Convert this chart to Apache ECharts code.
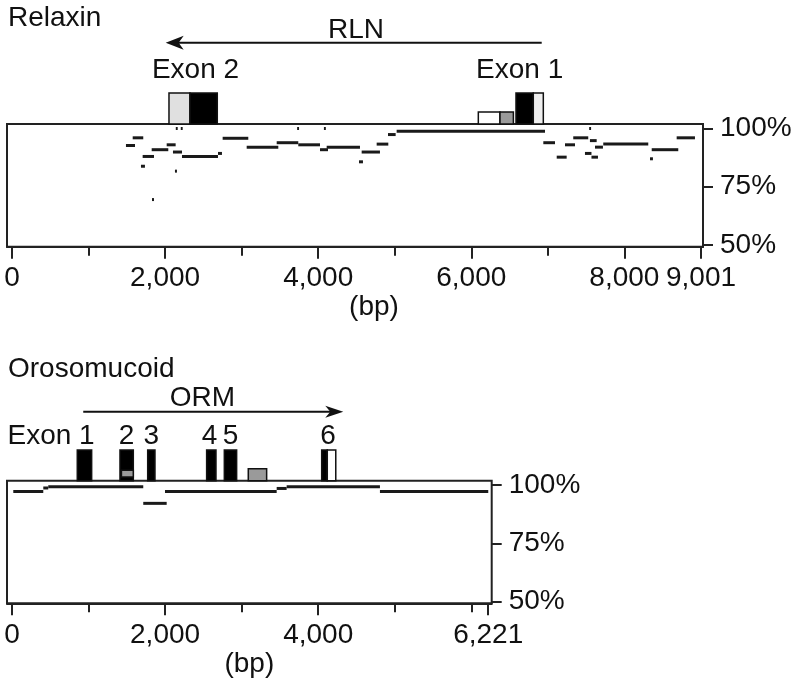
<!DOCTYPE html>
<html><head><meta charset="utf-8">
<script src="https://cdn.jsdelivr.net/npm/echarts@6/dist/echarts.min.js"></script>
<style>html,body{margin:0;padding:0;background:#fff}#c{width:800px;height:685px}</style>
</head><body><div id="c"></div>
<script>
// ---------------- data ----------------
const identityTicks = [50, 75, 100];

// Relaxin (RLN) panel
const relaxinTicks = [0, 2000, 4000, 6000, 8000, 9001];
const relaxinMinorTicks = [1000, 3000, 5000, 7000];
const relaxinStart    = [1489,1577,1685,1707,1829,1825,2021,2103,2129,2221,2691,2752,3066,3458,3740,4024,4111,4533,4568,4764,4912,5025,6941,7116,7224,7332,7485,7550,7570,7616,7724,8335,8357,8683,2140,2205,3725,4075,7540];
const relaxinEnd      = [1607,1715,1737,1855,1855,2042,2138,2221,2155,2691,2743,3087,3479,3740,4024,4128,4546,4585,4807,4916,5012,6963,7094,7246,7355,7528,7570,7638,7655,7720,8312,8373,8704,8922,2165,2230,3750,4100,7565];
const relaxinIdentity = [92.7,96.0,83.8,88.0,69.5,90.9,93.0,89.9,81.7,88.0,89.3,95.8,92.0,93.9,93.0,90.9,92.0,85.7,89.9,93.3,97.4,98.8,93.9,87.7,93.0,96.0,89.3,94.8,87.7,92.0,93.4,87.0,90.9,96.0,100,100,100,100,100];
const relaxinExonStart = [2051, 2325, 6092, 6375, 6584, 6810];
const relaxinExonEnd   = [2325, 2682, 6375, 6550, 6810, 6941];
const relaxinExonType  = ['utr', 'coding', 'short', 'shortGrey', 'coding', 'utrLight'];
const relaxinLabelText = ['Exon 2', 'Exon 1'];
const relaxinLabelPos  = [2397, 6632];
const relaxinGeneName = 'RLN';
const relaxinGeneFrom = 6920;
const relaxinGeneTo   = 2008;
const relaxinGeneLabelPos = 4494;

// Orosomucoid (ORM) panel
const ormTicks = [0, 2000, 4000, 6221];
const ormMinorTicks = [1000, 3000, 5000, 6000];
const ormStart    = [17, 409, 474, 1715, 1999, 3458, 3588, 4807];
const ormEnd      = [409, 474, 1715, 2021, 3458, 3588, 4807, 6222];
const ormIdentity = [97.3, 98.8, 99.3, 92.2, 97.3, 98.6, 99.3, 97.3];
const ormExonStart = [853, 1411, 1773, 2543, 2774, 4046, 4119, 1430, 3087];
const ormExonEnd   = [1041, 1585, 1868, 2665, 2935, 4119, 4230, 1585, 3327];
const ormExonType  = ['coding','coding','coding','coding','coding','coding','utrWhite','insetGrey','shortGrey'];
const ormLabelText = ['Exon 1', '2', '3', '4', '5', '6'];
const ormLabelPos  = [976, 1498, 1820, 2580, 2854, 4128];
const ormGeneName = 'ORM';
const ormGeneFrom = 931;
const ormGeneTo   = 4328;
const ormGeneLabelPos = 2488;

// ---------------- layout / style ----------------
const FONT = '"Liberation Sans", Arial, Helvetica, sans-serif';
const FS = 28;
const INK = '#111';
const panels = [
  { title: 'Relaxin', titleY: 18, plotTop: 124, plotH: 122.7, exonTop: 93, exonH: 31, width: 696, xMin: -65, xMax: 9027,
    ticks: relaxinTicks, minor: relaxinMinorTicks,
    start: relaxinStart, end: relaxinEnd, ident: relaxinIdentity,
    exS: relaxinExonStart, exE: relaxinExonEnd, exT: relaxinExonType,
    lbT: relaxinLabelText, lbP: relaxinLabelPos, lbRightFirst: false,
    gene: relaxinGeneName, gFrom: relaxinGeneFrom, gTo: relaxinGeneTo, gLab: relaxinGeneLabelPos,
    labelOff: 54, arrowOff: 81.3, nameOff: 94, head: [18, 7], bpShift: 38 },
  { title: 'Orosomucoid', titleY: 369, plotTop: 480.7, plotH: 122.6, exonTop: 450, exonH: 30.7, width: 484.7, xMin: -65, xMax: 6267,
    ticks: ormTicks, minor: ormMinorTicks,
    start: ormStart, end: ormEnd, ident: ormIdentity,
    exS: ormExonStart, exE: ormExonEnd, exT: ormExonType,
    lbT: ormLabelText, lbP: ormLabelPos, lbRightFirst: true,
    gene: ormGeneName, gFrom: ormGeneFrom, gTo: ormGeneTo, gLab: ormGeneLabelPos,
    labelOff: 44, arrowOff: 69, nameOff: 82.7, head: [18, 6], bpShift: 0 }
];

const fmt = v => Number(v).toLocaleString('en-US');
const exonFill = { coding: '#000', utr: '#e0e0e0', utrLight: '#efefef', utrWhite: '#fff', short: '#fff', shortGrey: '#9a9a9a', insetGrey: '#9a9a9a' };

const grid = [], xAxis = [], yAxis = [], series = [], graphic = [];

panels.forEach((p, i) => {
  const gPlot = grid.length;
  grid.push({ left: 7, top: p.plotTop, width: p.width, height: p.plotH, show: true, borderColor: '#222', borderWidth: 2, backgroundColor: 'transparent' });
  const gEx = grid.length;
  grid.push({ left: 7, top: p.exonTop, width: p.width, height: p.exonH, show: false });

  const xMain = xAxis.length;
  xAxis.push({ type: 'value', gridIndex: gPlot, position: 'bottom', min: p.xMin, max: p.xMax,
    axisLine: { show: true, onZero: false, lineStyle: { color: '#222', width: 2 } },
    axisTick: { show: true, customValues: p.ticks, length: 12, lineStyle: { color: '#222', width: 2 } },
    axisLabel: { show: true, customValues: p.ticks, formatter: fmt, fontSize: FS, fontFamily: FONT, color: INK, margin: 18 },
    splitLine: { show: false },
    name: '(bp)', nameLocation: 'middle', nameGap: 43,
    nameTextStyle: { fontSize: FS, fontFamily: FONT, color: INK, padding: [0, 0, 0, p.bpShift] } });
  xAxis.push({ type: 'value', gridIndex: gPlot, position: 'bottom', min: p.xMin, max: p.xMax,
    axisLine: { show: false, onZero: false }, axisLabel: { show: false }, splitLine: { show: false },
    axisTick: { show: true, customValues: p.minor, length: 9, lineStyle: { color: '#222', width: 2 } } });
  const xEx = xAxis.length;
  xAxis.push({ type: 'value', gridIndex: gEx, min: p.xMin, max: p.xMax, show: false });

  const yMain = yAxis.length;
  yAxis.push({ type: 'value', gridIndex: gPlot, position: 'right', min: 49.27, max: 101.93,
    axisLine: { show: false, onZero: false }, splitLine: { show: false },
    axisTick: { show: true, customValues: identityTicks, length: 10, lineStyle: { color: '#222', width: 2 } },
    axisLabel: { show: true, customValues: identityTicks, formatter: '{value}%', fontSize: FS, fontFamily: FONT, color: INK, margin: 17 } });
  const yEx = yAxis.length;
  yAxis.push({ type: 'value', gridIndex: gEx, min: 0, max: 1, show: false });

  // percent identity segments
  series.push({ type: 'custom', xAxisIndex: xMain, yAxisIndex: yMain, clip: false, silent: true,
    data: p.start.map((s, k) => [s, p.end[k], p.ident[k]]),
    encode: { x: [0, 1], y: 2 },
    renderItem: (params, api) => {
      const a = api.coord([api.value(0), api.value(2)]);
      const b = api.coord([api.value(1), api.value(2)]);
      return { type: 'line', shape: { x1: a[0], y1: a[1], x2: b[0], y2: b[1] }, style: { stroke: '#1a1a1a', lineWidth: 3 } };
    } });

  // exons
  series.push({ type: 'custom', xAxisIndex: xEx, yAxisIndex: yEx, clip: false, silent: true,
    data: p.exS.map((s, k) => [s, p.exE[k], 0]),
    encode: { x: [0, 1], y: 2 },
    renderItem: (params, api) => {
      const t = p.exT[params.dataIndex];
      let lo = 0, hi = 1;
      if (t === 'short' || t === 'shortGrey') hi = 0.39;
      if (t === 'insetGrey') { lo = 0.12; hi = 0.34; }
      const a = api.coord([api.value(0), hi]);
      const b = api.coord([api.value(1), lo]);
      return { type: 'rect', shape: { x: a[0], y: a[1], width: b[0] - a[0], height: b[1] - a[1] },
        style: { fill: exonFill[t], stroke: '#111', lineWidth: 1.5 } };
    } });

  // exon labels
  series.push({ type: 'custom', xAxisIndex: xEx, yAxisIndex: yEx, clip: false, silent: true,
    data: p.lbP.map(v => [v, 0]),
    encode: { x: 0, y: 1 },
    renderItem: (params, api) => {
      const c = api.coord([api.value(0), 0]);
      const idx = params.dataIndex;
      const right = p.lbRightFirst && idx === 0;
      return { type: 'text', x: right ? c[0] + 8 : c[0], y: c[1] - p.labelOff,
        style: { text: p.lbT[idx], fill: INK, font: FS + 'px ' + FONT, align: right ? 'right' : 'center', verticalAlign: 'middle' } };
    } });

  // gene arrow + name
  series.push({ type: 'custom', xAxisIndex: xEx, yAxisIndex: yEx, clip: false, silent: true,
    data: [[p.gFrom, p.gTo, 0, p.gLab]],
    encode: { x: [0, 1], y: 2 },
    renderItem: (params, api) => {
      const a = api.coord([api.value(0), 0]);
      const b = api.coord([api.value(1), 0]);
      const m = api.coord([api.value(3), 0]);
      const y = a[1] - p.arrowOff;
      const dir = b[0] > a[0] ? 1 : -1;
      const L = p.head[0], H = p.head[1];
      const tip = b[0];
      return { type: 'group', children: [
        { type: 'line', shape: { x1: a[0], y1: y, x2: tip - dir * 6, y2: y }, style: { stroke: '#111', lineWidth: 2 } },
        { type: 'polygon', shape: { points: [[tip, y], [tip - dir * L, y - H], [tip - dir * L * 0.72, y], [tip - dir * L, y + H]] }, style: { fill: '#111' } },
        { type: 'text', x: m[0], y: a[1] - p.nameOff, style: { text: p.gene, fill: INK, font: FS + 'px ' + FONT, align: 'center', verticalAlign: 'middle' } }
      ] };
    } });

  graphic.push({ type: 'text', x: 8, y: p.titleY, style: { text: p.title, fill: INK, font: FS + 'px ' + FONT, align: 'left', verticalAlign: 'middle' } });
});

const chart = echarts.init(document.getElementById('c'), null, { renderer: 'canvas' });
chart.setOption({ animation: false, backgroundColor: '#fff', grid, xAxis, yAxis, series, graphic });
</script></body></html>
